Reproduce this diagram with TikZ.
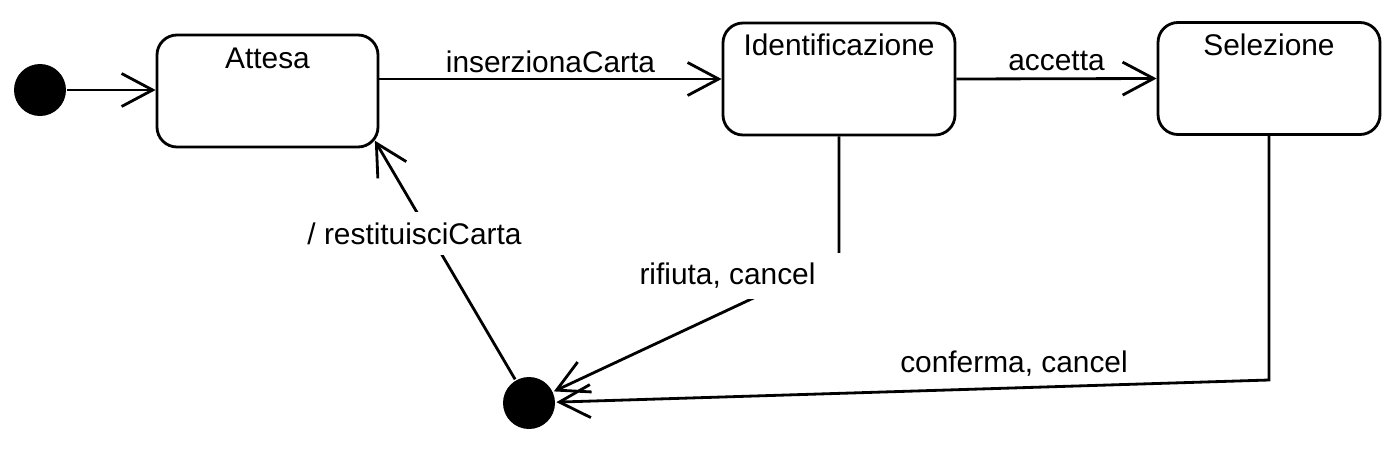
\documentclass[tikz,border=0pt]{standalone}
\usepackage{fontspec}
\setmainfont{Liberation Sans}
\usetikzlibrary{arrows.meta, positioning, calc}

\begin{document}
\begin{tikzpicture}[
    state/.style={rectangle, draw, rounded corners=4mm, minimum height=2.24cm},
    pseudo/.style={circle, fill=black, inner sep=0pt, minimum size=1.04cm},
    trans/.style={-{Straight Barb[length=6.2mm, width=6.6mm]}},
    lbl/.style={font=\fontsize{17}{20}\selectfont, inner sep=2pt},
    guard/.style={lbl, fill=white, inner xsep=16pt, inner ysep=6pt},
    line width=1.6pt
]
\useasboundingbox (0,0) rectangle (27.68,-9);
\node[pseudo] (init) at (0.8,-1.8) {};
\node[state, minimum width=4.42cm, label={[lbl, anchor=center, yshift=-0.5cm]north:Attesa}] (attesa) at (5.35,-1.82) {};
\node[state, minimum width=4.64cm, label={[lbl, anchor=center, yshift=-0.46cm]north:Identificazione}] (ident) at (16.78,-1.58) {};
\node[state, minimum width=4.44cm, label={[lbl, anchor=center, yshift=-0.48cm]north:Selezione}] (sel) at (25.38,-1.57) {};
\node[pseudo] (final) at (10.58,-8.06) {};
\coordinate (rifdown) at (0,-5.16);
\coordinate (confdown) at (0,-7.6);

\draw[trans] (init) -- (init -| attesa.west);
\draw[trans] (attesa.east |- ident.west) -- node[lbl, above=1pt]{inserzionaCarta} (ident.west);
\draw[trans] (ident.east) -- node[lbl, above=2pt]{accetta} (sel.west);
\draw[trans] (ident.south) -- (ident.south |- rifdown) -- (final);
\draw[trans] (sel.south) -- (sel.south |- confdown) -- (final);
\draw[trans, shorten >=-0.18cm] (final) -- (attesa.south east);

\node[guard] (riflbl) at (14.55,-5.52) {rifiuta, cancel};
\node[lbl] (conflbl) at (20.28,-7.27) {conferma, cancel};
\node[guard] (restlbl) at (8.29,-4.67) {/ restituisciCarta};
\end{tikzpicture}
\end{document}
